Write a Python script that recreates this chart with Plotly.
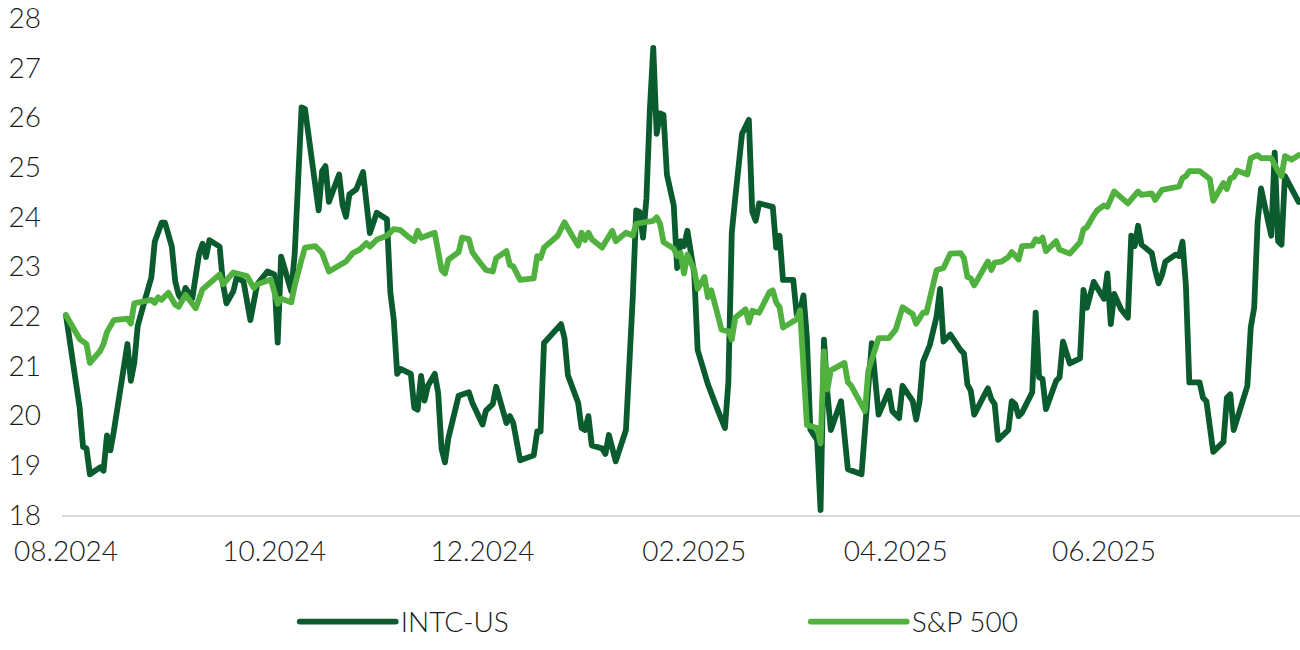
import plotly.graph_objects as go

# ---------------- data ----------------
intc_dates = [
    "2024-08-01", "2024-08-05", "2024-08-06", "2024-08-07", "2024-08-08", "2024-08-11", "2024-08-12",
    "2024-08-13", "2024-08-14", "2024-08-15", "2024-08-19", "2024-08-20", "2024-08-21", "2024-08-22",
    "2024-08-24", "2024-08-26", "2024-08-27", "2024-08-29", "2024-08-30", "2024-09-01", "2024-09-02",
    "2024-09-03", "2024-09-04", "2024-09-05", "2024-09-07", "2024-09-09", "2024-09-10", "2024-09-11",
    "2024-09-12", "2024-09-15", "2024-09-16", "2024-09-17", "2024-09-19", "2024-09-20", "2024-09-22",
    "2024-09-24", "2024-09-26", "2024-09-28", "2024-09-29", "2024-10-01", "2024-10-02", "2024-10-03",
    "2024-10-04", "2024-10-06", "2024-10-07", "2024-10-08", "2024-10-09", "2024-10-10", "2024-10-12",
    "2024-10-14", "2024-10-15", "2024-10-16", "2024-10-17", "2024-10-20", "2024-10-21", "2024-10-22",
    "2024-10-23", "2024-10-25", "2024-10-27", "2024-10-28", "2024-10-29", "2024-10-31", "2024-11-03",
    "2024-11-04", "2024-11-05", "2024-11-06", "2024-11-07", "2024-11-10", "2024-11-11", "2024-11-12",
    "2024-11-13", "2024-11-14", "2024-11-15", "2024-11-17", "2024-11-18", "2024-11-19", "2024-11-20",
    "2024-11-21", "2024-11-24", "2024-11-27", "2024-11-28", "2024-12-01", "2024-12-02", "2024-12-04",
    "2024-12-05", "2024-12-08", "2024-12-09", "2024-12-10", "2024-12-12", "2024-12-16", "2024-12-17",
    "2024-12-18", "2024-12-19", "2024-12-24", "2024-12-25", "2024-12-26", "2024-12-29", "2024-12-30",
    "2024-12-31", "2025-01-01", "2025-01-02", "2025-01-05", "2025-01-06", "2025-01-07", "2025-01-08",
    "2025-01-09", "2025-01-12", "2025-01-13", "2025-01-14", "2025-01-15", "2025-01-16", "2025-01-17",
    "2025-01-18", "2025-01-19", "2025-01-20", "2025-01-21", "2025-01-22", "2025-01-23", "2025-01-24",
    "2025-01-26", "2025-01-27", "2025-01-28", "2025-01-29", "2025-01-30", "2025-02-01", "2025-02-02",
    "2025-02-04", "2025-02-05", "2025-02-08", "2025-02-10", "2025-02-11", "2025-02-12", "2025-02-13",
    "2025-02-15", "2025-02-17", "2025-02-18", "2025-02-19", "2025-02-20", "2025-02-24", "2025-02-25",
    "2025-02-26", "2025-02-27", "2025-03-02", "2025-03-03", "2025-03-04", "2025-03-05", "2025-03-06",
    "2025-03-07", "2025-03-08", "2025-03-09", "2025-03-10", "2025-03-11", "2025-03-12", "2025-03-13",
    "2025-03-16", "2025-03-18", "2025-03-22", "2025-03-24", "2025-03-25", "2025-03-27", "2025-03-30",
    "2025-03-31", "2025-04-02", "2025-04-03", "2025-04-06", "2025-04-07", "2025-04-08", "2025-04-09",
    "2025-04-11", "2025-04-13", "2025-04-14", "2025-04-15", "2025-04-17", "2025-04-20", "2025-04-21",
    "2025-04-22", "2025-04-23", "2025-04-24", "2025-04-28", "2025-04-29", "2025-04-30", "2025-05-01",
    "2025-05-04", "2025-05-05", "2025-05-06", "2025-05-07", "2025-05-08", "2025-05-11", "2025-05-12",
    "2025-05-13", "2025-05-14", "2025-05-15", "2025-05-18", "2025-05-19", "2025-05-20", "2025-05-22",
    "2025-05-25", "2025-05-26", "2025-05-27", "2025-05-29", "2025-06-01", "2025-06-02", "2025-06-03",
    "2025-06-04", "2025-06-06", "2025-06-08", "2025-06-09", "2025-06-10", "2025-06-11", "2025-06-12",
    "2025-06-15", "2025-06-16", "2025-06-17", "2025-06-18", "2025-06-19", "2025-06-22", "2025-06-23",
    "2025-06-24", "2025-06-25", "2025-06-26", "2025-06-29", "2025-06-30", "2025-07-01", "2025-07-03",
    "2025-07-06", "2025-07-07", "2025-07-08", "2025-07-09", "2025-07-10", "2025-07-13", "2025-07-14",
    "2025-07-15", "2025-07-16", "2025-07-17", "2025-07-20", "2025-07-21", "2025-07-22", "2025-07-23",
    "2025-07-24", "2025-07-26", "2025-07-28",
]
intc_values = [
    22.02, 20.16, 19.37, 19.34, 18.82, 18.96, 18.89,
    19.60, 19.30, 19.68, 21.44, 20.70, 21.06, 21.80,
    22.30, 22.78, 23.50, 23.88, 23.88, 23.40, 22.70,
    22.43, 22.33, 22.57, 22.36, 23.26, 23.46, 23.19,
    23.53, 23.40, 22.64, 22.26, 22.50, 22.78, 22.70,
    21.92, 22.64, 22.81, 22.90, 22.84, 21.47, 23.20,
    22.93, 22.50, 23.27, 25.10, 26.20, 26.17, 25.05,
    24.13, 24.92, 25.02, 24.30, 24.85, 24.24, 24.00,
    24.45, 24.55, 24.90, 24.18, 23.67, 24.08, 23.95,
    22.48, 21.93, 20.84, 20.94, 20.84, 20.16, 20.12,
    20.80, 20.30, 20.60, 20.84, 20.46, 19.33, 19.06,
    19.55, 20.40, 20.47, 20.26, 19.82, 20.10, 20.23,
    20.58, 19.85, 19.99, 19.85, 19.10, 19.20, 19.68,
    19.68, 21.46, 21.84, 21.56, 20.81, 20.26, 19.75,
    19.71, 19.99, 19.40, 19.34, 19.23, 19.61, 19.30,
    19.08, 19.71, 20.94, 22.38, 24.13, 24.10, 23.58,
    24.37, 26.15, 27.40, 25.67, 26.08, 26.05, 24.85,
    24.23, 22.97, 23.51, 23.41, 23.72, 22.86, 21.32,
    20.81, 20.63, 20.09, 19.75, 20.67, 23.68, 24.37,
    25.67, 25.95, 24.10, 23.92, 24.27, 24.20, 23.38,
    23.62, 22.73, 22.73, 22.04, 22.11, 22.42, 21.56,
    19.72, 19.61, 19.51, 18.10, 21.53, 20.46, 19.71,
    20.29, 18.92, 18.82, 20.53, 21.46, 20.02, 20.50,
    20.09, 19.95, 20.60, 20.29, 19.92, 20.29, 21.08,
    21.42, 22.00, 22.55, 21.49, 21.63, 21.32, 21.25,
    20.63, 20.50, 20.02, 20.55, 20.33, 20.23, 19.51,
    19.71, 20.29, 20.23, 19.99, 20.06, 20.47, 22.07,
    20.77, 20.74, 20.13, 20.70, 20.77, 21.49, 21.05,
    21.15, 22.53, 22.17, 22.69, 22.35, 22.86, 21.84,
    22.45, 22.14, 21.97, 23.62, 23.41, 23.82, 23.44,
    23.27, 22.93, 22.66, 22.83, 23.10, 23.24, 23.21,
    23.50, 22.62, 20.67, 20.67, 20.36, 20.29, 19.27,
    19.47, 20.36, 20.43, 19.71, 19.92, 20.60, 21.78,
    22.17, 23.89, 24.57, 23.62, 25.29, 23.51, 23.44,
    24.82, 24.54, 24.30,
]

spx_dates = [
    "2024-08-01", "2024-08-05", "2024-08-07", "2024-08-08", "2024-08-11", "2024-08-12", "2024-08-13",
    "2024-08-15", "2024-08-19", "2024-08-20", "2024-08-21", "2024-08-26", "2024-08-27", "2024-08-28",
    "2024-08-29", "2024-08-31", "2024-09-02", "2024-09-03", "2024-09-05", "2024-09-08", "2024-09-10",
    "2024-09-12", "2024-09-15", "2024-09-16", "2024-09-19", "2024-09-23", "2024-09-25", "2024-09-26",
    "2024-09-30", "2024-10-02", "2024-10-03", "2024-10-06", "2024-10-07", "2024-10-09", "2024-10-10",
    "2024-10-13", "2024-10-14", "2024-10-15", "2024-10-17", "2024-10-19", "2024-10-21", "2024-10-22",
    "2024-10-24", "2024-10-26", "2024-10-28", "2024-10-29", "2024-10-31", "2024-11-03", "2024-11-05",
    "2024-11-07", "2024-11-09", "2024-11-11", "2024-11-12", "2024-11-13", "2024-11-17", "2024-11-19",
    "2024-11-20", "2024-11-21", "2024-11-24", "2024-11-25", "2024-11-27", "2024-11-28", "2024-11-30",
    "2024-12-02", "2024-12-04", "2024-12-05", "2024-12-08", "2024-12-09", "2024-12-10", "2024-12-12",
    "2024-12-16", "2024-12-17", "2024-12-18", "2024-12-19", "2024-12-23", "2024-12-25", "2024-12-27",
    "2024-12-29", "2024-12-30", "2024-12-31", "2025-01-01", "2025-01-02", "2025-01-05", "2025-01-08",
    "2025-01-09", "2025-01-12", "2025-01-14", "2025-01-15", "2025-01-20", "2025-01-21", "2025-01-22",
    "2025-01-23", "2025-01-26", "2025-01-27", "2025-01-28", "2025-01-29", "2025-01-30", "2025-02-01",
    "2025-02-02", "2025-02-04", "2025-02-05", "2025-02-06", "2025-02-09", "2025-02-11", "2025-02-12",
    "2025-02-13", "2025-02-16", "2025-02-17", "2025-02-18", "2025-02-20", "2025-02-23", "2025-02-24",
    "2025-02-25", "2025-02-26", "2025-02-27", "2025-03-03", "2025-03-04", "2025-03-06", "2025-03-08",
    "2025-03-09", "2025-03-10", "2025-03-11", "2025-03-12", "2025-03-13", "2025-03-17", "2025-03-18",
    "2025-03-19", "2025-03-23", "2025-03-24", "2025-03-26", "2025-03-27", "2025-03-30", "2025-03-31",
    "2025-04-01", "2025-04-03", "2025-04-06", "2025-04-07", "2025-04-09", "2025-04-10", "2025-04-13",
    "2025-04-15", "2025-04-16", "2025-04-17", "2025-04-20", "2025-04-21", "2025-04-22", "2025-04-23",
    "2025-04-24", "2025-04-28", "2025-04-29", "2025-04-30", "2025-05-02", "2025-05-04", "2025-05-05",
    "2025-05-07", "2025-05-08", "2025-05-11", "2025-05-12", "2025-05-13", "2025-05-14", "2025-05-15",
    "2025-05-18", "2025-05-19", "2025-05-22", "2025-05-25", "2025-05-26", "2025-05-27", "2025-05-29",
    "2025-05-30", "2025-06-01", "2025-06-02", "2025-06-04", "2025-06-08", "2025-06-11", "2025-06-12",
    "2025-06-15", "2025-06-16", "2025-06-18", "2025-06-23", "2025-06-24", "2025-06-25", "2025-06-26",
    "2025-06-29", "2025-07-02", "2025-07-03", "2025-07-06", "2025-07-07", "2025-07-08", "2025-07-09",
    "2025-07-10", "2025-07-13", "2025-07-14", "2025-07-16", "2025-07-17", "2025-07-20", "2025-07-22",
    "2025-07-23", "2025-07-24", "2025-07-26", "2025-07-28",
]
spx_values = [
    22.02, 21.54, 21.44, 21.06, 21.30, 21.44, 21.68,
    21.92, 21.95, 21.85, 22.26, 22.33, 22.27, 22.38,
    22.33, 22.47, 22.23, 22.19, 22.43, 22.16, 22.54,
    22.67, 22.84, 22.64, 22.88, 22.81, 22.57, 22.64,
    22.74, 22.25, 22.35, 22.28, 22.62, 23.14, 23.38,
    23.41, 23.33, 23.27, 22.90, 22.97, 23.07, 23.10,
    23.27, 23.34, 23.47, 23.40, 23.54, 23.62, 23.75,
    23.73, 23.61, 23.51, 23.72, 23.58, 23.68, 22.93,
    22.86, 23.14, 23.29, 23.58, 23.55, 23.29, 23.10,
    22.93, 22.90, 23.17, 23.31, 23.03, 23.00, 22.73,
    22.76, 23.21, 23.17, 23.38, 23.62, 23.89, 23.65,
    23.42, 23.68, 23.53, 23.68, 23.55, 23.38, 23.72,
    23.51, 23.68, 23.62, 23.86, 23.92, 23.99, 23.86,
    23.49, 23.36, 23.21, 23.27, 22.86, 23.24, 22.93,
    22.55, 22.79, 22.38, 22.52, 21.73, 21.70, 21.53,
    21.97, 22.14, 21.87, 22.11, 22.07, 22.48, 22.52,
    22.28, 22.18, 21.77, 21.94, 22.12, 19.81, 19.77,
    19.75, 19.44, 21.29, 20.53, 20.91, 21.06, 20.67,
    20.60, 20.09, 20.91, 21.32, 21.56, 21.56, 21.66,
    21.73, 22.18, 22.04, 21.85, 22.07, 22.07, 22.93,
    22.97, 23.10, 23.26, 23.27, 23.17, 22.79, 22.76,
    22.62, 23.10, 22.93, 23.08, 23.10, 23.19, 23.29,
    23.14, 23.41, 23.42, 23.55, 23.51, 23.58, 23.31,
    23.51, 23.34, 23.26, 23.49, 23.75, 23.79, 24.03,
    24.13, 24.23, 24.20, 24.51, 24.27, 24.51, 24.44,
    24.47, 24.34, 24.54, 24.61, 24.78, 24.82, 24.92,
    24.92, 24.76, 24.32, 24.68, 24.56, 24.77, 24.80,
    24.93, 24.85, 25.18, 25.24, 25.18, 25.18, 24.92,
    24.82, 25.22, 25.15, 25.24,
]

series_names = ["INTC-US", "S&P 500"]
series_colors = ["#0A5B2E", "#50B13F"]

tick_dates = ["2024-08-01", "2024-10-01", "2024-12-01", "2025-02-01", "2025-04-01", "2025-06-01"]
tick_labels = ["08.2024", "10.2024", "12.2024", "02.2025", "04.2025", "06.2025"]
y_ticks = list(range(18, 29))

FONT = "Lato, 'Open Sans', sans-serif"
TXT = dict(family=FONT, size=28, color="#1a1a1a", weight=300)

fig = go.Figure()
for name, xs, ys, col in [
    (series_names[0], intc_dates, intc_values, series_colors[0]),
    (series_names[1], spx_dates, spx_values, series_colors[1]),
]:
    fig.add_trace(go.Scatter(
        x=xs, y=ys, mode="lines", name=name,
        line=dict(color=col, width=5.8, shape="linear"),
    ))

fig.update_layout(
    width=1300, height=650,
    margin=dict(l=62, r=0, t=18, b=135, autoexpand=False),
    paper_bgcolor="white", plot_bgcolor="white",
    font=TXT,
    showlegend=True,
    legend=dict(
        orientation="h", x=0.188, xanchor="left", y=-0.215, yanchor="middle",
        entrywidth=400, entrywidthmode="pixels", itemwidth=96,
        font=TXT,
        bgcolor="rgba(0,0,0,0)",
    ),
    xaxis=dict(
        type="date", automargin=False,
        range=["2024-07-30 20:00", "2025-07-28 10:00"],
        tickmode="array", tickvals=tick_dates, ticktext=tick_labels,
        showgrid=False, zeroline=False,
        showline=True, linecolor="#d9d9d9", linewidth=2,
        ticks="", ticklabelstandoff=10, ticklabeloverflow="allow",
        tickfont=TXT,
    ),
    yaxis=dict(
        range=[18, 28], automargin=False,
        tickmode="array", tickvals=y_ticks,
        showgrid=False, zeroline=False, showline=False,
        ticks="", ticklabelstandoff=20, ticklabeloverflow="allow",
        tickfont=TXT,
    ),
)

post = (
    "document.body.style.margin='0';"
    "document.querySelectorAll('path.js-line').forEach(function(p){"
    "p.style.strokeLinejoin='round';p.style.strokeLinecap='round';});"
)
fig.write_html("out.html", post_script=post, config={"displayModeBar": False})
